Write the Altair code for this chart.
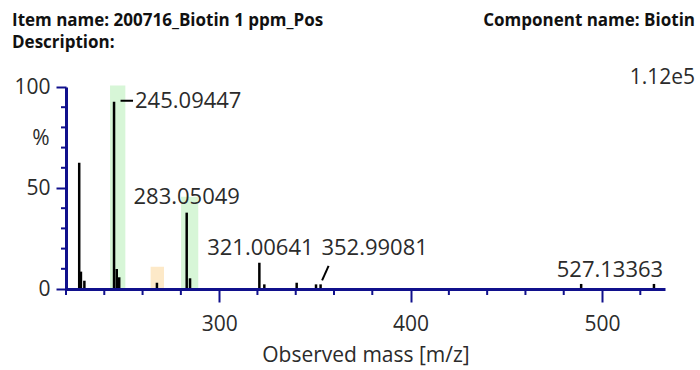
import altair as alt
import pandas as pd

# ---- data ----
peak_mz = [226.9, 227.8, 229.6, 245.09447, 246.5, 247.8, 267.5, 283.05049, 284.8,
           321.00641, 323.6, 340.5, 350.6, 352.99081, 489.1, 527.13363]
peak_pct = [62.5, 8.6, 4.1, 92.7, 9.9, 5.8, 3.1, 37.8, 5.3,
            13.0, 2.3, 3.1, 2.3, 2.3, 2.5, 2.5]

band_start = [243.0, 280.1, 264.2]
band_end = [251.0, 289.1, 271.2]
band_top = [100.7, 45.7, 11.0]
band_kind = ["match", "match", "other"]

label_mz = [245.09447, 283.05049, 321.00641, 352.99081, 527.13363]
label_pct = [92.7, 37.8, 13.0, 2.3, 2.5]
label_text = ["245.09447", "283.05049", "321.00641", "352.99081", "527.13363"]

x_major = [300, 400, 500]
x_minor = [220, 240, 260, 280, 320, 340, 360, 380, 420, 440, 460, 480, 520]
y_major = [0, 50, 100]
y_minor = [10, 20, 30, 40, 60, 70, 80, 90]

NAVY = "#10108c"
TXT = "#2b2b2b"
FONT = "Open Sans"

peaks = pd.DataFrame({"mz": peak_mz, "pct": peak_pct})
bands = pd.DataFrame({"x1": band_start, "x2": band_end, "top": band_top, "kind": band_kind})
labels = pd.DataFrame({"mz": label_mz, "pct": label_pct, "text": label_text})
xminor_df = pd.DataFrame({"mz": x_minor})
yminor_df = pd.DataFrame({"pct": y_minor})

xs = alt.Scale(domain=[220, 532.9], nice=False, zero=False)
ys = alt.Scale(domain=[0, 100], nice=False)

x_axis = alt.Axis(
    values=x_major, grid=False, title=None, orient="bottom", zindex=1,
    domainColor=NAVY, domainWidth=3, tickColor=NAVY, tickWidth=2, tickSize=13,
    labelOverlap=False, labelFlush=False,
    labelFont=FONT, labelFontSize=21, labelColor=TXT, labelPadding=11,
)
y_axis = alt.Axis(
    values=y_major, grid=False, title=None, orient="left", zindex=1,
    domainColor=NAVY, domainWidth=3, tickColor=NAVY, tickWidth=2, tickSize=10,
    labelOverlap=False, labelFlush=False,
    labelFont=FONT, labelFontSize=21, labelColor=TXT, labelPadding=6,
)

def X(f):
    return alt.X(f, scale=xs, axis=x_axis)

def Y(f):
    return alt.Y(f, scale=ys, axis=y_axis)

band_layer = alt.Chart(bands).mark_rect(clip=False).encode(
    x=X("x1:Q"),
    x2="x2:Q",
    y=Y("top:Q"),
    y2=alt.datum(0),
    color=alt.Color("kind:N", scale=alt.Scale(domain=["match", "other"],
                                               range=["#d7f6d7", "#fde9c8"]), legend=None),
)

peak_layer = alt.Chart(peaks).mark_rule(color="black", strokeWidth=2.5).encode(
    x=X("mz:Q"), y=Y("pct:Q"), y2=alt.datum(0),
)

# minor ticks (short, navy)
xminor = alt.Chart(xminor_df).mark_rule(color=NAVY, strokeWidth=2).encode(
    x=X("mz:Q"), y=alt.value(202), y2=alt.value(208))
yminor = alt.Chart(yminor_df).mark_rule(color=NAVY, strokeWidth=2).encode(
    y=Y("pct:Q"), x=alt.value(0), x2=alt.value(-5))

def lab(i, dx, dy, align="center", baseline="alphabetic"):
    d = labels.iloc[[i]]
    return alt.Chart(d).mark_text(font=FONT, fontSize=22, color=TXT, align=align,
                                  baseline=baseline, dx=dx, dy=dy).encode(
        text="text:N", x=X("mz:Q"), y=Y("pct:Q"))

lab245 = lab(0, 21, -1, align="left", baseline="middle")

lead245 = alt.Chart(labels.iloc[[0]]).mark_rule(
    color="black", strokeWidth=2, xOffset=6.5, x2Offset=19, yOffset=-1, y2Offset=-1
).encode(x=X("mz:Q"), x2="mz:Q", y=Y("pct:Q"), y2="pct:Q")

lead353 = alt.Chart(labels.iloc[[3]]).mark_rule(
    color="black", strokeWidth=2, xOffset=1.5, x2Offset=8, yOffset=-4, y2Offset=-18.5
).encode(x=X("mz:Q"), x2="mz:Q", y=Y("pct:Q"), y2="pct:Q")

l283 = lab(1, 0, -8.5)
l321 = lab(2, 1, -7.7)
l353 = lab(3, 54, -29.4)
l527 = lab(4, -44, -6.7)

def free_text(txt, x, y, size, weight="normal", align="left", color=TXT):
    return alt.Chart(pd.DataFrame({"t": [txt]})).mark_text(
        font=FONT, fontSize=size, fontWeight=weight, align=align, baseline="alphabetic", color=color
    ).encode(x=alt.value(x), y=alt.value(y), text="t:N")

hdr1 = free_text("Item name: 200716_Biotin 1 ppm_Pos", -54, -61, 17, "bold", color="#111111")
hdr2 = free_text("Description:", -54, -39, 17, "bold", color="#111111")
hdr3 = free_text("Component name: Biotin", 629, -61, 17, "bold", "right", color="#111111")
scale_txt = free_text("1.12e5", 629, -3, 21, align="right")
pct_txt = free_text("%", -25, 58, 21, align="center")
xtitle = free_text("Observed mass [m/z]", 300, 275, 21, align="center")

chart = alt.layer(
    band_layer, peak_layer, xminor, yminor, lead245, lead353, lab245, l283, l321, l353, l527,
    hdr1, hdr2, hdr3, scale_txt, pct_txt, xtitle,
).properties(
    width=599, height=202,
    autosize=alt.AutoSizeParams(type="none"),
    padding={"left": 66, "top": 87, "right": 35, "bottom": 81},
    background="white",
).configure_view(strokeWidth=0)

chart.save("out.html", embed_options={"renderer": "svg", "actions": False})
